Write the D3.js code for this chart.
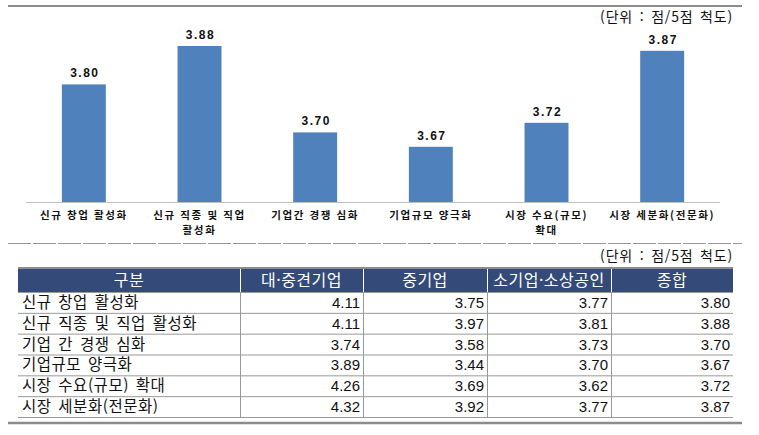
<!DOCTYPE html>
<html lang="ko">
<head>
<meta charset="utf-8">
<script src="https://cdn.jsdelivr.net/npm/d3@7"></script>
<style>
  html, body { margin: 0; padding: 0; background: #fff; }
  svg { display: block; }
</style>
</head>
<body>
<div id="chart"></div>
<script>
// 데이터
const categories = ["신규 창업 활성화", "신규 직종 및 직업 활성화", "기업간 경쟁 심화", "기업규모 양극화", "시장 수요(규모) 확대", "시장 세분화(전문화)"];
const chartLabels = [["신규 창업 활성화"], ["신규 직종 및 직업", "활성화"], ["기업간 경쟁 심화"], ["기업규모 양극화"], ["시장 수요(규모)", "확대"], ["시장 세분화(전문화)"]];
const totalScores = [3.80, 3.88, 3.70, 3.67, 3.72, 3.87];

const tableColumns = ["구분", "대·중견기업", "중기업", "소기업·소상공인", "종합"];
const rowLabels = ["신규 창업 활성화", "신규 직종 및 직업 활성화", "기업 간 경쟁 심화", "기업규모 양극화", "시장 수요(규모) 확대", "시장 세분화(전문화)"];
const largeMidScores = [4.11, 4.11, 3.74, 3.89, 4.26, 4.32];
const mediumScores = [3.75, 3.97, 3.58, 3.44, 3.69, 3.92];
const smallScores = [3.77, 3.81, 3.73, 3.70, 3.62, 3.77];
const unitText = "(단위 : 점/5점 척도)";

const width = 759, height = 435;
const korFont = "'Noto Sans CJK KR', sans-serif";
const numFont = "'Liberation Sans', Arial, sans-serif";

const svg = d3.select("#chart").append("svg")
  .attr("width", width)
  .attr("height", height)
  .attr("viewBox", [0, 0, width, height]);

// 상단 구분선
svg.append("line")
  .attr("x1", 8).attr("x2", 742).attr("y1", 6).attr("y2", 6)
  .attr("stroke", "#8c8c8c").attr("stroke-width", 2);

function unitLabel(yPos) {
  svg.append("text")
    .attr("x", 733).attr("y", yPos)
    .attr("text-anchor", "end")
    .attr("font-family", korFont).attr("font-size", 14)
    .attr("letter-spacing", 0.8).attr("word-spacing", 2)
    .attr("fill", "#111")
    .text(unitText);
}
unitLabel(22);

// 막대 차트
const baseY = 202;
const x = d3.scaleBand()
  .domain(categories)
  .range([26, 720])
  .paddingInner(0.62)
  .paddingOuter(0.31);

const y = d3.scaleLinear()
  .domain([3.555, 3.955])
  .range([baseY, 10]);

const bars = categories.map((c, i) => ({cat: c, value: totalScores[i], label: chartLabels[i]}));

svg.append("g")
  .selectAll("rect")
  .data(bars)
  .join("rect")
  .attr("x", d => x(d.cat))
  .attr("y", d => y(d.value))
  .attr("width", x.bandwidth())
  .attr("height", d => baseY - y(d.value))
  .attr("fill", "#4f81bd");

svg.append("line")
  .attr("x1", 26).attr("x2", 720).attr("y1", baseY + 0.5).attr("y2", baseY + 0.5)
  .attr("stroke", "#bfbfbf").attr("stroke-width", 1);

svg.append("g")
  .selectAll("text")
  .data(bars)
  .join("text")
  .attr("x", d => x(d.cat) + x.bandwidth() / 2 + 1)
  .attr("y", d => y(d.value) - 7)
  .attr("text-anchor", "middle")
  .attr("font-family", numFont)
  .attr("font-weight", "bold")
  .attr("font-size", 12)
  .attr("letter-spacing", 1.5)
  .attr("fill", "#111")
  .text(d => d.value.toFixed(2));

const catLabel = svg.append("g")
  .selectAll("text")
  .data(bars)
  .join("text")
  .attr("x", d => x(d.cat) + x.bandwidth() / 2)
  .attr("y", 219)
  .attr("text-anchor", "middle")
  .attr("font-family", korFont)
  .attr("font-weight", "bold")
  .attr("font-size", 10.5)
  .attr("letter-spacing", 1.6)
  .attr("fill", "#111");

catLabel.selectAll("tspan")
  .data(d => d.label.map(t => ({t, cx: x(d.cat) + x.bandwidth() / 2})))
  .join("tspan")
  .attr("x", d => d.cx)
  .attr("dy", (d, i) => i === 0 ? 0 : 15)
  .text(d => d.t);

// 점선 구분
svg.append("line")
  .attr("x1", 8).attr("x2", 742).attr("y1", 243.5).attr("y2", 243.5)
  .attr("stroke", "#999").attr("stroke-width", 1)
  .attr("stroke-dasharray", "23,2");

unitLabel(261);

// 표
const colEdges = [18, 240, 363, 487, 611, 733];
const headTop = 268, headBottom = 292, tableBottom = 417;
const rowY = d3.scaleBand()
  .domain(d3.range(rowLabels.length))
  .range([headBottom, tableBottom]);

const table = svg.append("g");

table.append("rect")
  .attr("x", colEdges[0]).attr("y", headTop)
  .attr("width", colEdges[5] - colEdges[0]).attr("height", headBottom - headTop)
  .attr("fill", "#344a78");

table.append("line")
  .attr("x1", colEdges[0]).attr("x2", colEdges[5]).attr("y1", headTop).attr("y2", headTop)
  .attr("stroke", "#8c8c8c").attr("stroke-width", 2);

// 헤더 세로선
table.append("g")
  .selectAll("line")
  .data(colEdges.slice(1, 5))
  .join("line")
  .attr("x1", d => d + 0.5).attr("x2", d => d + 0.5)
  .attr("y1", headTop + 1).attr("y2", headBottom)
  .attr("stroke", "#fff").attr("stroke-width", 1);

table.append("g")
  .selectAll("text")
  .data(tableColumns)
  .join("text")
  .attr("x", (d, i) => (colEdges[i] + colEdges[i + 1]) / 2)
  .attr("y", (headTop + headBottom) / 2 + 6)
  .attr("text-anchor", "middle")
  .attr("font-family", korFont)
  .attr("font-size", 16)
  .attr("letter-spacing", 0.5)
  .attr("fill", "#fff")
  .text(d => d);

// 데이터 행
const rows = rowLabels.map((r, i) => ({
  label: r,
  vals: [largeMidScores[i], mediumScores[i], smallScores[i], totalScores[i]],
  i
}));

// 가로선
table.append("g")
  .selectAll("line")
  .data(d3.range(rowLabels.length + 1))
  .join("line")
  .attr("x1", colEdges[0]).attr("x2", colEdges[5])
  .attr("y1", i => i === 0 ? headBottom + 0.5 : rowY(i - 1) + rowY.bandwidth() + 0.5)
  .attr("y2", i => i === 0 ? headBottom + 0.5 : rowY(i - 1) + rowY.bandwidth() + 0.5)
  .attr("stroke", "#999").attr("stroke-width", 1);

// 세로선
table.append("g")
  .selectAll("line")
  .data(colEdges.slice(1, 5))
  .join("line")
  .attr("x1", d => d + 0.5).attr("x2", d => d + 0.5)
  .attr("y1", headBottom).attr("y2", tableBottom)
  .attr("stroke", "#999").attr("stroke-width", 1);

const rowG = table.append("g")
  .selectAll("g")
  .data(rows)
  .join("g")
  .attr("transform", d => `translate(0,${rowY(d.i) + rowY.bandwidth() / 2 + 5.5})`);

rowG.append("text")
  .attr("x", colEdges[0] + 4)
  .attr("font-family", korFont)
  .attr("font-size", 15.5)
  .attr("letter-spacing", 0.5)
  .attr("word-spacing", 2)
  .attr("fill", "#111")
  .text(d => d.label);

rowG.selectAll("text.val")
  .data(d => d.vals)
  .join("text")
  .attr("class", "val")
  .attr("x", (d, i) => colEdges[i + 2] - 3)
  .attr("text-anchor", "end")
  .attr("font-family", numFont)
  .attr("font-size", 15)
  .attr("fill", "#111")
  .text(d => d.toFixed(2));

// 하단 굵은 선
svg.append("line")
  .attr("x1", 8).attr("x2", 742).attr("y1", 423).attr("y2", 423)
  .attr("stroke", "#8c8c8c").attr("stroke-width", 2.5);
</script>
</body>
</html>
